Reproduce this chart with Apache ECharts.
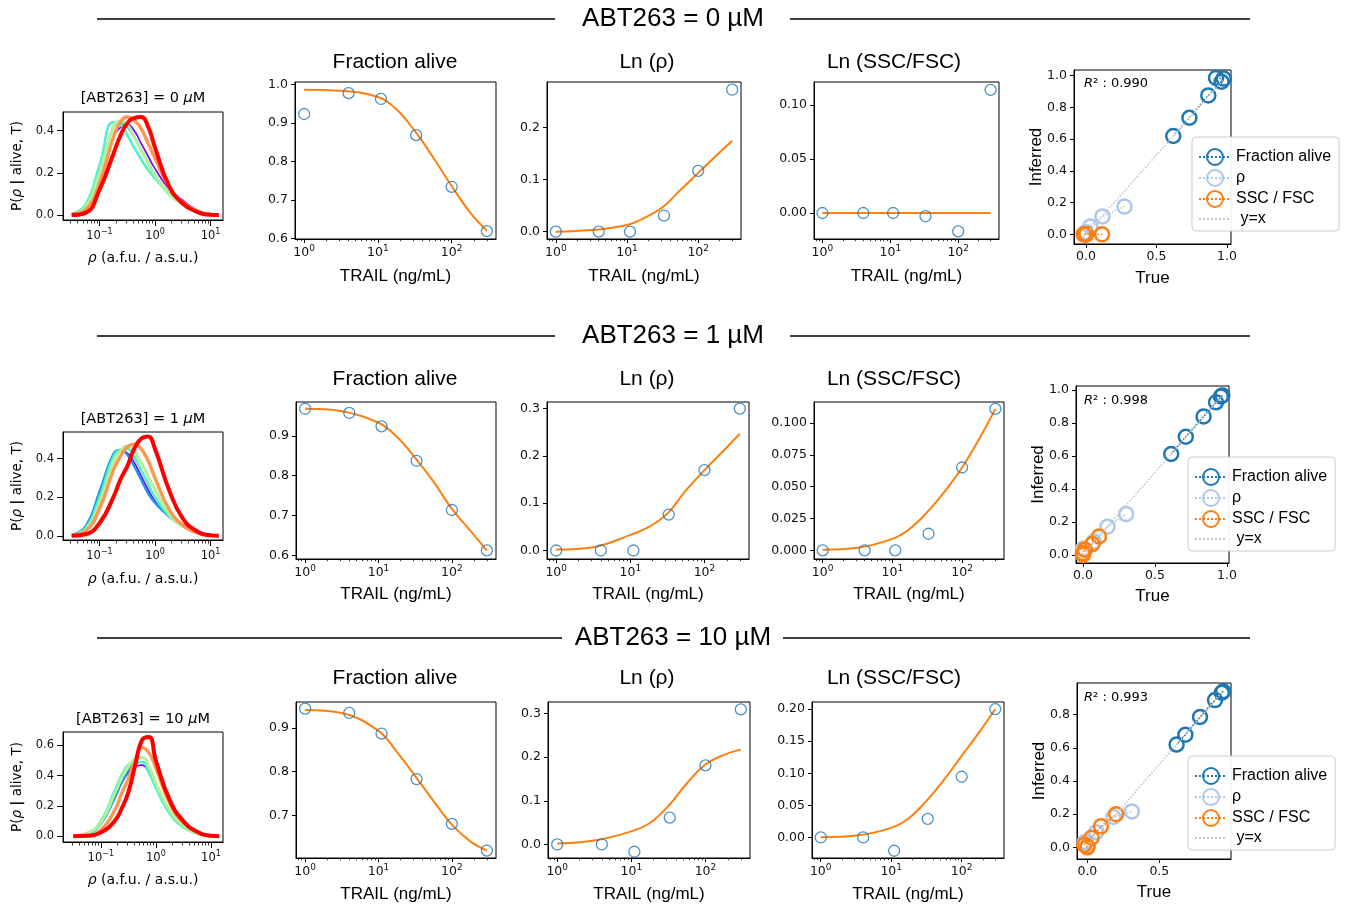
<!DOCTYPE html>
<html><head><meta charset="utf-8">
<script src="https://cdn.jsdelivr.net/npm/echarts@6/dist/echarts.min.js"></script>
<style>html,body{margin:0;padding:0;background:#fff}#c{width:1347px;height:905px}</style>
</head><body><div id="c"></div>
<script>
// ================= DATA =================
const rowTitles = ['ABT263 = 0 µM', 'ABT263 = 1 µM', 'ABT263 = 10 µM'];
const densityConc = ['0', '1', '10'];
const panelTitles = ['Fraction alive', 'Ln (ρ)', 'Ln (SSC/FSC)'];
const legendNames = ['Fraction alive', 'ρ', 'SSC / FSC', 'y=x'];
const r2Values = [0.990, 0.998, 0.993];

// TRAIL doses (ng/mL) of measured points and of the fitted curve samples
const doses = [1, 4, 11, 33, 100, 300];
const fitDoses = [1, 3.16, 10, 17.8, 31.6, 56.2, 100, 178, 300];
// rho grid of density curves (a.f.u. / a.s.u.)
const rhoGrid = [0.0316, 0.0562, 0.1, 0.178, 0.237, 0.316, 0.422, 0.562, 0.75, 1, 1.78, 3.16, 5.62, 10, 14.1];

// ---- ABT263 = 0 uM ----
const fracAlive0    = [0.923, 0.977, 0.962, 0.868, 0.734, 0.619];
const fracAliveFit0 = [0.986, 0.983, 0.967, 0.935, 0.879, 0.81, 0.736, 0.667, 0.62];
const fracAliveInf0 = [0.986, 0.982, 0.962, 0.876, 0.735, 0.62];
const lnRho0        = [0, 0, 0, 0.031, 0.117, 0.273];
const lnRhoFit0     = [0, 0.003, 0.013, 0.027, 0.047, 0.08, 0.113, 0.146, 0.175];
const lnRhoInf0     = [0, 0.003, 0.013, 0.05, 0.113, 0.175];
const lnSsc0        = [0, 0, 0, -0.003, -0.017, 0.114];
const lnSscFit0     = [0, 0, 0, 0, 0, 0, 0, 0, 0];
const lnSscInf0     = [0, 0, 0, 0, 0, 0];
const density0 = [
  [0.003, 0.03, 0.16, 0.37, 0.415, 0.43, 0.4, 0.34, 0.28, 0.22, 0.125, 0.07, 0.025, 0.003, 0],
  [0.004, 0.04, 0.2, 0.42, 0.44, 0.42, 0.37, 0.31, 0.25, 0.19, 0.105, 0.055, 0.02, 0.003, 0],
  [0.005, 0.05, 0.235, 0.44, 0.43, 0.38, 0.32, 0.265, 0.215, 0.175, 0.1, 0.05, 0.017, 0.003, 0],
  [0.004, 0.04, 0.2, 0.42, 0.445, 0.43, 0.37, 0.31, 0.25, 0.19, 0.1, 0.05, 0.018, 0.004, 0],
  [0.003, 0.025, 0.15, 0.37, 0.44, 0.465, 0.45, 0.41, 0.34, 0.27, 0.135, 0.06, 0.02, 0.003, 0],
  [0, 0.01, 0.12, 0.29, 0.375, 0.435, 0.46, 0.465, 0.42, 0.32, 0.14, 0.055, 0.016, 0.001, 0]
];

// ---- ABT263 = 1 uM ----
const fracAlive1    = [0.968, 0.9575, 0.924, 0.8375, 0.714, 0.6125];
const fracAliveFit1 = [0.968, 0.962, 0.933, 0.898, 0.845, 0.785, 0.717, 0.662, 0.612];
const fracAliveInf1 = [0.968, 0.961, 0.926, 0.84, 0.717, 0.612];
const lnRho1        = [0, 0, 0, 0.076, 0.17, 0.3];
const lnRhoFit1     = [0.002, 0.007, 0.033, 0.05, 0.078, 0.127, 0.17, 0.21, 0.247];
const lnRhoInf1     = [0.002, 0.008, 0.036, 0.08, 0.17, 0.247];
const lnSsc1        = [0, 0, 0, 0.013, 0.065, 0.111];
const lnSscFit1     = [0.0005, 0.002, 0.009, 0.017, 0.03, 0.046, 0.065, 0.088, 0.111];
const lnSscInf1     = [0.0005, 0.002, 0.01, 0.031, 0.065, 0.111];
const density1 = [
  [0.004, 0.045, 0.21, 0.42, 0.44, 0.43, 0.38, 0.31, 0.24, 0.18, 0.1, 0.05, 0.018, 0.003, 0],
  [0.005, 0.05, 0.23, 0.425, 0.445, 0.42, 0.36, 0.29, 0.22, 0.17, 0.1, 0.05, 0.015, 0.003, 0],
  [0.004, 0.04, 0.2, 0.41, 0.445, 0.45, 0.41, 0.34, 0.27, 0.2, 0.105, 0.05, 0.016, 0.003, 0],
  [0.003, 0.03, 0.17, 0.38, 0.44, 0.465, 0.44, 0.38, 0.31, 0.24, 0.115, 0.05, 0.016, 0.003, 0],
  [0.003, 0.025, 0.14, 0.34, 0.41, 0.46, 0.475, 0.45, 0.39, 0.3, 0.14, 0.055, 0.017, 0.003, 0],
  [0, 0.008, 0.065, 0.2, 0.29, 0.36, 0.45, 0.503, 0.515, 0.45, 0.24, 0.09, 0.025, 0.002, 0]
];

// ---- ABT263 = 10 uM ----
const fracAlive10    = [0.944, 0.934, 0.887, 0.783, 0.681, 0.620];
const fracAliveFit10 = [0.941, 0.934, 0.893, 0.845, 0.79, 0.733, 0.679, 0.641, 0.620];
const fracAliveInf10 = [0.941, 0.932, 0.888, 0.786, 0.679, 0.62];
const lnRho10        = [0, 0, -0.0167, 0.0615, 0.181, 0.309];
const lnRhoFit10     = [0.002, 0.009, 0.03, 0.049, 0.088, 0.14, 0.183, 0.205, 0.217];
const lnRhoInf10     = [0.002, 0.01, 0.033, 0.092, 0.183, 0.217];
const lnSsc10        = [0, 0, -0.0207, 0.029, 0.0946, 0.2];
const lnSscFit10     = [0.0005, 0.003, 0.015, 0.03, 0.057, 0.09, 0.127, 0.164, 0.2];
const lnSscInf10     = [0.0005, 0.003, 0.016, 0.058, 0.127, 0.2];
const density10 = [
  [0.002, 0.02, 0.09, 0.26, 0.35, 0.42, 0.46, 0.47, 0.42, 0.33, 0.16, 0.065, 0.02, 0.003, 0],
  [0.002, 0.015, 0.08, 0.25, 0.35, 0.43, 0.48, 0.49, 0.44, 0.34, 0.17, 0.07, 0.02, 0.003, 0],
  [0.003, 0.02, 0.1, 0.3, 0.4, 0.47, 0.49, 0.49, 0.42, 0.32, 0.15, 0.06, 0.02, 0.003, 0],
  [0.003, 0.02, 0.09, 0.28, 0.38, 0.46, 0.51, 0.52, 0.46, 0.35, 0.17, 0.07, 0.02, 0.003, 0],
  [0.001, 0.005, 0.04, 0.17, 0.28, 0.38, 0.5, 0.585, 0.55, 0.45, 0.22, 0.09, 0.03, 0.003, 0],
  [0, 0.003, 0.025, 0.1, 0.18, 0.29, 0.47, 0.635, 0.655, 0.5, 0.24, 0.1, 0.03, 0.003, 0]
];

// ================= STYLE / LAYOUT =================
const densColors = ['#8000ff', '#1996f2', '#4df2ce', '#b3f296', '#ff964f', '#ff0000'];
const densWidths = [1.7, 2.2, 2.6, 3.0, 3.4, 4.0];
const C_BLUE = '#1f77b4', C_LBLUE = '#aec7e8', C_ORANGE = '#ff7f0e', C_GRAY = '#c7c7c7';
const SANS = 'Liberation Sans', DV = 'DejaVu Sans';

const rowsData = [
  {frac: fracAlive0, fracFit: fracAliveFit0, fracInf: fracAliveInf0, rho: lnRho0, rhoFit: lnRhoFit0, rhoInf: lnRhoInf0, ssc: lnSsc0, sscFit: lnSscFit0, sscInf: lnSscInf0, dens: density0},
  {frac: fracAlive1, fracFit: fracAliveFit1, fracInf: fracAliveInf1, rho: lnRho1, rhoFit: lnRhoFit1, rhoInf: lnRhoInf1, ssc: lnSsc1, sscFit: lnSscFit1, sscInf: lnSscInf1, dens: density1},
  {frac: fracAlive10, fracFit: fracAliveFit10, fracInf: fracAliveInf10, rho: lnRho10, rhoFit: lnRhoFit10, rhoInf: lnRhoInf10, ssc: lnSsc10, sscFit: lnSscFit10, sscInf: lnSscInf10, dens: density10}
];

const layout = [
  { rowY: 19, segs: [[97, 555], [790, 1250]], subY: 62, dTitleY: 98, r2Y: 84, legT: 137, legL: 1192,
    D: {l: 63, t: 112, w: 160, h: 108, xmin: 0.022, xmax: 16.8, ymin: -0.0237, ymax: 0.489, yt: [0, 0.2, 0.4], xgap: 31},
    F: {l: 295, t: 82, w: 201, h: 157, ymin: 0.5985, ymax: 1.006, yt: [0.6, 0.7, 0.8, 0.9, 1.0], dec: 1},
    R: {l: 547, t: 82, w: 194, h: 157, ymin: -0.0141, ymax: 0.2878, yt: [0, 0.1, 0.2], dec: 1},
    S: {l: 814, t: 82, w: 185, h: 157, ymin: -0.0241, ymax: 0.1213, yt: [0, 0.05, 0.1], dec: 2},
    X: {l: 1074, t: 70, w: 157, h: 174, xmin: -0.085, xmax: 1.029, ymin: -0.061, ymax: 1.036, xt: [0, 0.5, 1.0], yt: [0, 0.2, 0.4, 0.6, 0.8, 1.0]},
    tgap: 29, truegap: 26 },
  { rowY: 336, segs: [[97, 555], [790, 1250]], subY: 379, dTitleY: 419, r2Y: 401, legT: 457, legL: 1188,
    D: {l: 63, t: 432, w: 160, h: 108, xmin: 0.022, xmax: 16.8, ymin: -0.022, ymax: 0.538, yt: [0, 0.2, 0.4], xgap: 32},
    F: {l: 296, t: 402, w: 200, h: 157, ymin: 0.591, ymax: 0.985, yt: [0.6, 0.7, 0.8, 0.9], dec: 1},
    R: {l: 547, t: 402, w: 202, h: 157, ymin: -0.018, ymax: 0.314, yt: [0, 0.1, 0.2, 0.3], dec: 1},
    S: {l: 814, t: 402, w: 190, h: 157, ymin: -0.0068, ymax: 0.1164, yt: [0, 0.025, 0.05, 0.075, 0.1], dec: 3},
    X: {l: 1076, t: 386, w: 153, h: 177, xmin: -0.0485, xmax: 1.014, ymin: -0.05, ymax: 1.025, xt: [0, 0.5, 1.0], yt: [0, 0.2, 0.4, 0.6, 0.8, 1.0]},
    tgap: 27, truegap: 25 },
  { rowY: 638, segs: [[97, 562], [783, 1250]], subY: 678, dTitleY: 719, r2Y: 698, legT: 756, legL: 1188,
    D: {l: 63, t: 732, w: 160, h: 110, xmin: 0.0206, xmax: 16.56, ymin: -0.0376, ymax: 0.688, yt: [0, 0.2, 0.4, 0.6], xgap: 31},
    F: {l: 296, t: 702, w: 200, h: 156, ymin: 0.603, ymax: 0.959, yt: [0.7, 0.8, 0.9], dec: 1},
    R: {l: 548, t: 702, w: 202, h: 156, ymin: -0.031, ymax: 0.326, yt: [0, 0.1, 0.2, 0.3], dec: 1},
    S: {l: 812, t: 702, w: 192, h: 156, ymin: -0.032, ymax: 0.211, yt: [0, 0.05, 0.1, 0.15, 0.2], dec: 2},
    X: {l: 1077, t: 683, w: 154, h: 176, xmin: -0.072, xmax: 0.998, ymin: -0.07, ymax: 0.991, xt: [0, 0.5], yt: [0, 0.2, 0.4, 0.6, 0.8]},
    tgap: 28, truegap: 25 }
];
const trailMin = 0.7516, trailMax = 399;

// ================= HELPERS =================
function logLabel(v) {
  const e = Math.round(Math.log10(v));
  return '{b|10}{s|' + (e < 0 ? '\u2212' + (-e) : String(e)) + '}';
}
function majorLogs(min, max) {
  const out = [];
  for (let e = -3; e <= 3; e++) { const v = Math.pow(10, e); if (v >= min && v <= max) out.push(v); }
  return out;
}
function minorLogs(min, max) {
  const out = [];
  for (let e = -3; e <= 3; e++) for (let k = 2; k <= 9; k++) {
    const v = +(k * Math.pow(10, e)).toPrecision(3);
    if (v > min && v < max) out.push(v);
  }
  return out;
}
const grids = [], xAxes = [], yAxes = [], series = [], graphics = [], legends = [];
const AX = '#000';
function addGrid(b) {
  grids.push({left: b.l, top: b.t, width: b.w, height: b.h, show: true, borderColor: AX, borderWidth: 1,
    backgroundColor: 'transparent', containLabel: false, outerBoundsMode: 'none'});
  return grids.length - 1;
}
function addLogX(gi, min, max, fs, name, gap, nameStyle, tick) {
  const majors = majorLogs(min, max);
  const sfs = Math.round(fs * 0.72);
  xAxes.push({
    type: 'log', logBase: 10, gridIndex: gi, min: min, max: max, position: 'bottom',
    axisLine: {show: true, onZero: false, lineStyle: {color: AX, width: 1}},
    axisTick: {show: true, length: tick.major, inside: false, customValues: majors, lineStyle: {color: AX, width: 1}},
    axisLabel: {show: true, customValues: majors, formatter: logLabel, fontSize: fs, fontFamily: DV, color: '#111', margin: tick.margin,
      rich: {
        b: {fontSize: fs, fontFamily: DV, color: '#111', verticalAlign: 'bottom', lineHeight: Math.round(fs * 1.2), padding: [4, 0, 0, 0]},
        s: {fontSize: sfs, fontFamily: DV, color: '#111', verticalAlign: 'top', lineHeight: sfs}
      }},
    splitLine: {show: false}, minorTick: {show: false},
    name: name, nameLocation: 'middle', nameGap: gap, nameMoveOverlap: false, nameTextStyle: nameStyle
  });
  const idx = xAxes.length - 1;
  xAxes.push({
    type: 'log', logBase: 10, gridIndex: gi, min: min, max: max, position: 'bottom',
    axisLine: {show: false, onZero: false},
    axisTick: {show: true, length: tick.minor, inside: false, customValues: minorLogs(min, max), lineStyle: {color: AX, width: 0.8}},
    axisLabel: {show: false}, splitLine: {show: false}
  });
  return idx;
}
function addValX(gi, b, fs, name, gap, nameStyle) {
  xAxes.push({
    type: 'value', gridIndex: gi, min: b.xmin, max: b.xmax, position: 'bottom',
    axisLine: {show: true, onZero: false, lineStyle: {color: AX, width: 1}},
    axisTick: {show: true, length: 4, customValues: b.xt, lineStyle: {color: AX, width: 1}},
    axisLabel: {show: true, customValues: b.xt, formatter: v => v.toFixed(1), fontSize: fs, fontFamily: DV, color: '#111', margin: 6},
    splitLine: {show: false},
    name: name, nameLocation: 'middle', nameGap: gap, nameMoveOverlap: false, nameTextStyle: nameStyle
  });
  return xAxes.length - 1;
}
function addValY(gi, min, max, ticks, dec, fs, name, gap, nameStyle, tickLen, margin) {
  yAxes.push({
    type: 'value', gridIndex: gi, min: min, max: max, position: 'left',
    axisLine: {show: true, onZero: false, lineStyle: {color: AX, width: 1}},
    axisTick: {show: true, length: tickLen || 4, customValues: ticks, lineStyle: {color: AX, width: 1}},
    axisLabel: {show: true, customValues: ticks, formatter: v => v.toFixed(dec), fontSize: fs, fontFamily: DV, color: '#111', margin: margin || 7},
    splitLine: {show: false},
    name: name || '', nameLocation: 'middle', nameGap: gap || 0, nameMoveOverlap: false, nameTextStyle: nameStyle || {}
  });
  return yAxes.length - 1;
}
function text(x, y, str, size, family, align, rich) {
  graphics.push({type: 'text', silent: true, z: 100, style: {
    text: str, x: x, y: y, fill: '#000', fontSize: size, fontFamily: family,
    textAlign: align || 'center', textVerticalAlign: 'middle', align: align || 'center', verticalAlign: 'middle', rich: rich}});
}
function hline(x1, x2, y) {
  graphics.push({type: 'line', silent: true, shape: {x1: x1, y1: y, x2: x2, y2: y}, style: {stroke: '#000', lineWidth: 1.6}});
}
const openCircle = (c, bw) => ({color: 'rgba(0,0,0,0)', borderColor: c, borderWidth: bw});
const zip = (a, b) => a.map((v, i) => [v, b[i]]);

const trailName = {fontFamily: SANS, fontSize: 17, color: '#000'};
const densTicks = {major: 6, minor: 3.5, margin: 8};
const doseTicks = {major: 4, minor: 2.2, margin: 5};

// ================= BUILD =================
rowsData.forEach((d, r) => {
  const L = layout[r];
  text(673, L.rowY, rowTitles[r], 26, SANS);
  L.segs.forEach(s => hline(s[0], s[1], L.rowY));

  // ---- density panel ----
  let gi = addGrid(L.D);
  let xi = addLogX(gi, L.D.xmin, L.D.xmax, 11.5, '{i|ρ} (a.f.u. / a.s.u.)', L.D.xgap,
    {fontFamily: DV, fontSize: 14, color: '#000', rich: {i: {fontStyle: 'italic', fontFamily: DV, fontSize: 14}}}, densTicks);
  let yi = addValY(gi, L.D.ymin, L.D.ymax, L.D.yt, 1, 11.5, 'P({i|ρ} {b||} alive, T)', 39,
    {fontFamily: DV, fontSize: 13.5, color: '#000', rich: {i: {fontStyle: 'italic', fontFamily: DV, fontSize: 13.5}, b: {fontWeight: 'bold', fontFamily: DV, fontSize: 14}}}, 6, 9);
  d.dens.forEach((curve, k) => {
    series.push({type: 'line', xAxisIndex: xi, yAxisIndex: yi, data: zip(rhoGrid, curve), smooth: 0.5,
      showSymbol: false, symbol: 'none', lineStyle: {color: densColors[k], width: densWidths[k]}, z: 2 + k, silent: true});
  });
  text(143, L.dTitleY, '[ABT263] = ' + densityConc[r] + ' {i|μ}M', 14.5, DV, 'center',
    {i: {fontStyle: 'italic', fontFamily: DV, fontSize: 14.5}});

  // ---- three dose-response panels ----
  const panels = [
    {b: L.F, pts: d.frac, fit: d.fracFit, tx: 395},
    {b: L.R, pts: d.rho, fit: d.rhoFit, tx: 647},
    {b: L.S, pts: d.ssc, fit: d.sscFit, tx: 894}
  ];
  panels.forEach((p, k) => {
    gi = addGrid(p.b);
    xi = addLogX(gi, trailMin, trailMax, 12.5, 'TRAIL (ng/mL)', L.tgap, trailName, doseTicks);
    yi = addValY(gi, p.b.ymin, p.b.ymax, p.b.yt, p.b.dec, 12.5);
    series.push({type: 'line', xAxisIndex: xi, yAxisIndex: yi, data: zip(fitDoses, p.fit), smooth: 0.4,
      showSymbol: false, symbol: 'none', lineStyle: {color: C_ORANGE, width: 2}, z: 2, silent: true});
    series.push({type: 'scatter', xAxisIndex: xi, yAxisIndex: yi, data: zip(doses, p.pts), symbol: 'circle',
      symbolSize: 11, itemStyle: openCircle(C_BLUE, 1.3), z: 3, silent: true});
    text(p.tx, L.subY, panelTitles[k], 21, SANS);
  });

  // ---- true vs inferred panel ----
  gi = addGrid(L.X);
  xi = addValX(gi, L.X, 12.5, 'True', L.truegap, trailName);
  yi = addValY(gi, L.X.ymin, L.X.ymax, L.X.yt, 1, 12.5, 'Inferred', 29, trailName);
  const sets = [
    {name: legendNames[0], t: d.frac, inf: d.fracInf, c: C_BLUE},
    {name: legendNames[1], t: d.rho, inf: d.rhoInf, c: C_LBLUE},
    {name: legendNames[2], t: d.ssc, inf: d.sscInf, c: C_ORANGE}
  ];
  sets.forEach((s, k) => {
    series.push({type: 'line', name: s.name, xAxisIndex: xi, yAxisIndex: yi, data: zip(s.t, s.inf),
      symbol: 'circle', symbolSize: 14, showSymbol: true, itemStyle: openCircle(s.c, 2.5),
      lineStyle: {color: s.c, width: 1.6, type: 'dotted'}, z: 3 + k, silent: true});
  });
  const allTrue = d.frac.concat(d.rho, d.ssc);
  const lo = Math.min.apply(null, allTrue), hi = Math.max.apply(null, allTrue);
  series.push({type: 'line', name: legendNames[3], xAxisIndex: xi, yAxisIndex: yi, data: [[lo, lo], [hi, hi]],
    symbol: 'circle', symbolSize: 1, showSymbol: false, itemStyle: {color: 'rgba(0,0,0,0)', borderWidth: 0},
    lineStyle: {color: C_GRAY, width: 1.6, type: 'dotted'}, z: 7, silent: true});
  text(1084, L.r2Y, '{i|R}² : ' + r2Values[r].toFixed(3), 13, DV, 'left',
    {i: {fontStyle: 'italic', fontFamily: DV, fontSize: 13}});

  legends.push({
    left: L.legL, top: L.legT, orient: 'vertical', selectedMode: false,
    data: legendNames.map((n, k) => k === 3 ? {name: n, itemStyle: {color: 'rgba(0,0,0,0)', borderWidth: 0}} : {name: n}),
    formatter: n => (n === 'y=x' ? ' y=x' : n),
    backgroundColor: 'rgba(255,255,255,0.92)', borderColor: '#cccccc', borderWidth: 1, borderRadius: 4,
    padding: [11, 8, 4, 6], itemGap: 3, itemWidth: 32, itemHeight: 20, z: 50,
    textStyle: {fontFamily: SANS, fontSize: 16, color: '#000'}
  });
});

const chart = echarts.init(document.getElementById('c'), null, {renderer: 'canvas'});
chart.setOption({
  animation: false,
  backgroundColor: '#fff',
  grid: grids, xAxis: xAxes, yAxis: yAxes, series: series, legend: legends,
  graphic: {elements: graphics}
});
</script></body></html>
